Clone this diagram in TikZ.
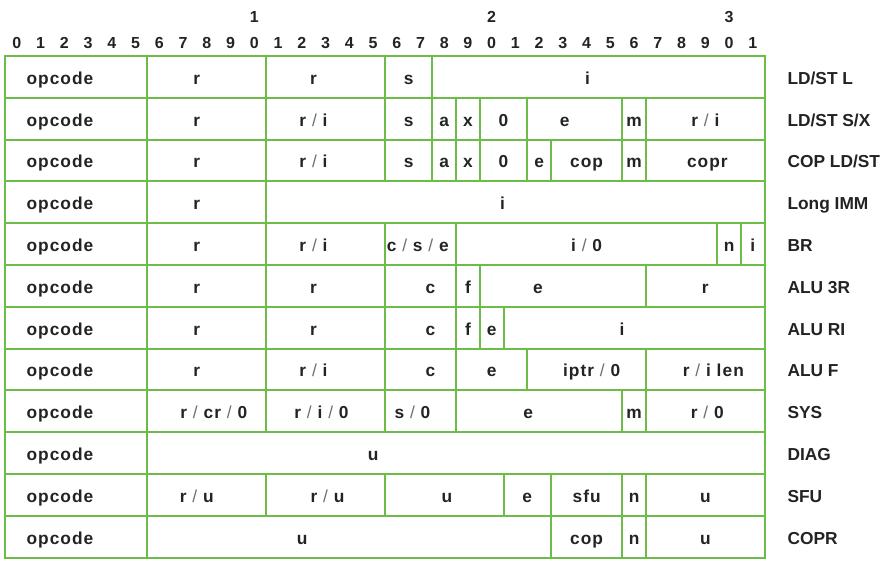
\documentclass[tikz,border=0pt]{standalone}
\usepackage{fontspec}
\setmainfont{Liberation Sans}
\newfontfamily\cellfont{Liberation Sans}[LetterSpace=6]
\usepackage{tikz}

\definecolor{rulegreen}{RGB}{108,189,72}
\definecolor{inkgray}{RGB}{35,35,35}
\definecolor{slashgray}{RGB}{110,110,110}
\newcommand{\bitw}{17.805pt}
\newcommand{\slsh}{{\mdseries\color{slashgray}/}}

\begin{document}
\begin{tikzpicture}[x=\bitw, y=-31.35pt, thick,
  field/.style={draw=rulegreen, line width=1.5pt, minimum height=31.35pt,
    inner sep=0pt, text=inkgray, font=\cellfont\bfseries\fontsize{13}{15}\selectfont,
    text height=11.1pt, text depth=0pt},
  rowlbl/.style={anchor=west, inner sep=0pt, text=inkgray,
    font=\bfseries\fontsize{13}{15}\selectfont, text height=11.1pt, text depth=0pt},
  bitnum/.style={anchor=base, inner sep=0pt, text=inkgray,
    font=\bfseries\fontsize{12}{14}\selectfont}]
\useasboundingbox (-0.2106,-1.3397) rectangle (37.11,12.0574);

% bit numbers
\foreach \i in {0,...,31} {
  \pgfmathtruncatemacro{\d}{mod(\i,10)}
  \node[bitnum] (b\i) at (\i+0.5,-0.19) {\d};
}
\foreach \i/\t in {10/1, 20/2, 30/3}
  \node[bitnum] (t\i) at (\i+0.5,-0.81) {\t};

% opcode column, bits 0-5
\foreach \r in {0,...,11}
  \node[field, minimum width={6*\bitw}] (op\r) at (3,\r+0.5) {opcode\kern24.4pt};

% fields: first bit / last bit / text shift in pt / text
% LD/ST L
\foreach \a/\b/\o/\t [count=\k] in {6/10/-7.5/r, 11/15/-9/r, 16/17/0/s, 18/31/-8.25/i}
  \node[field, minimum width={(\b-\a+1)*\bitw}] (c0-\k) at ({(\a+\b+1)/2},0.5)
    {\t\kern-2\dimexpr\o pt\relax};
\node[rowlbl] (l0) at (32.94,0.5) {LD/ST L};

% LD/ST S/X
\foreach \a/\b/\o/\t [count=\k] in {6/10/-7.5/r, 11/15/-9/{r \slsh{} i}, 16/17/0/s,
    18/18/0/a, 19/19/0/x, 20/21/0/0, 22/25/-7.5/e, 26/26/0/m, 27/31/0/{r \slsh{} i}}
  \node[field, minimum width={(\b-\a+1)*\bitw}] (c1-\k) at ({(\a+\b+1)/2},1.5)
    {\t\kern-2\dimexpr\o pt\relax};
\node[rowlbl] (l1) at (32.94,1.5) {LD/ST S/X};

% COP LD/ST
\foreach \a/\b/\o/\t [count=\k] in {6/10/-7.5/r, 11/15/-9/{r \slsh{} i}, 16/17/0/s,
    18/18/0/a, 19/19/0/x, 20/21/0/0, 22/22/0/e, 23/25/0/cop, 26/26/0/m, 27/31/1.5/copr}
  \node[field, minimum width={(\b-\a+1)*\bitw}] (c2-\k) at ({(\a+\b+1)/2},2.5)
    {\t\kern-2\dimexpr\o pt\relax};
\node[rowlbl] (l2) at (32.94,2.5) {COP LD/ST};

% Long IMM
\foreach \a/\b/\o/\t [count=\k] in {6/10/-7.5/r, 11/31/-9.75/i}
  \node[field, minimum width={(\b-\a+1)*\bitw}] (c3-\k) at ({(\a+\b+1)/2},3.5)
    {\t\kern-2\dimexpr\o pt\relax};
\node[rowlbl] (l3) at (32.94,3.5) {Long IMM};

% BR
\foreach \a/\b/\o/\t [count=\k] in {6/10/-7.5/r, 11/15/-9/{r \slsh{} i},
    16/18/-2/{c \slsh{} s \slsh{} e}, 19/29/0/{i \slsh{} 0}, 30/30/0/n, 31/31/0/i}
  \node[field, minimum width={(\b-\a+1)*\bitw}] (c4-\k) at ({(\a+\b+1)/2},4.5)
    {\t\kern-2\dimexpr\o pt\relax};
\node[rowlbl] (l4) at (32.94,4.5) {BR};

% ALU 3R
\foreach \a/\b/\o/\t [count=\k] in {6/10/-7.5/r, 11/15/-9/r, 16/18/7.5/c, 19/19/0/f,
    20/26/-18.75/e, 27/31/0/r}
  \node[field, minimum width={(\b-\a+1)*\bitw}] (c5-\k) at ({(\a+\b+1)/2},5.5)
    {\t\kern-2\dimexpr\o pt\relax};
\node[rowlbl] (l5) at (32.94,5.5) {ALU 3R};

% ALU RI
\foreach \a/\b/\o/\t [count=\k] in {6/10/-7.5/r, 11/15/-9/r, 16/18/7.5/c, 19/19/0/f,
    20/20/0/e, 21/31/-9/i}
  \node[field, minimum width={(\b-\a+1)*\bitw}] (c6-\k) at ({(\a+\b+1)/2},6.5)
    {\t\kern-2\dimexpr\o pt\relax};
\node[rowlbl] (l6) at (32.94,6.5) {ALU RI};

% ALU F
\foreach \a/\b/\o/\t [count=\k] in {6/10/-7.5/r, 11/15/-9/{r \slsh{} i}, 16/18/7.5/c,
    19/21/0/e, 22/26/3.75/{iptr \slsh{} 0}, 27/31/6/{r \slsh{} i len}}
  \node[field, minimum width={(\b-\a+1)*\bitw}] (c7-\k) at ({(\a+\b+1)/2},7.5)
    {\t\kern-2\dimexpr\o pt\relax};
\node[rowlbl] (l7) at (32.94,7.5) {ALU F};

% SYS
\foreach \a/\b/\o/\t [count=\k] in {6/10/5.25/{r \slsh{} cr \slsh{} 0},
    11/15/-3/{r \slsh{} i \slsh{} 0}, 16/18/-6/{s \slsh{} 0}, 19/25/-8.25/e, 26/26/0/m,
    27/31/1.5/{r \slsh{} 0}}
  \node[field, minimum width={(\b-\a+1)*\bitw}] (c8-\k) at ({(\a+\b+1)/2},8.5)
    {\t\kern-2\dimexpr\o pt\relax};
\node[rowlbl] (l8) at (32.94,8.5) {SYS};

% DIAG
\foreach \a/\b/\o/\t [count=\k] in {6/31/-62.25/u}
  \node[field, minimum width={(\b-\a+1)*\bitw}] (c9-\k) at ({(\a+\b+1)/2},9.5)
    {\t\kern-2\dimexpr\o pt\relax};
\node[rowlbl] (l9) at (32.94,9.5) {DIAG};

% SFU
\foreach \a/\b/\o/\t [count=\k] in {6/10/-7.5/{r \slsh{} u}, 11/15/1.5/{r \slsh{} u},
    16/20/2/u, 21/22/0/e, 23/25/0/sfu, 26/26/0/n, 27/31/0/u}
  \node[field, minimum width={(\b-\a+1)*\bitw}] (c10-\k) at ({(\a+\b+1)/2},10.5)
    {\t\kern-2\dimexpr\o pt\relax};
\node[rowlbl] (l10) at (32.94,10.5) {SFU};

% COPR
\foreach \a/\b/\o/\t [count=\k] in {6/22/-35.25/u, 23/25/0/cop, 26/26/0/n, 27/31/0/u}
  \node[field, minimum width={(\b-\a+1)*\bitw}] (c11-\k) at ({(\a+\b+1)/2},11.5)
    {\t\kern-2\dimexpr\o pt\relax};
\node[rowlbl] (l11) at (32.94,11.5) {COPR};
\end{tikzpicture}
\end{document}
